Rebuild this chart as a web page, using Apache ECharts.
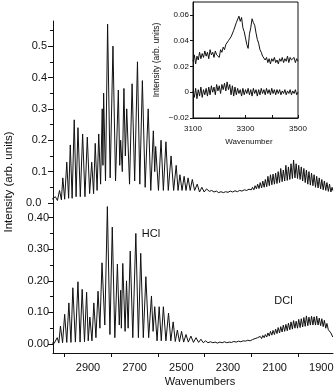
<!DOCTYPE html>
<html><head><meta charset="utf-8">
<script src="https://cdn.jsdelivr.net/npm/echarts@6/dist/echarts.min.js"></script>
<style>html,body{margin:0;padding:0;background:#fff}#c{width:335px;height:389px}</style>
</head><body><div id="c"></div>
<script>
// ---- top panel trace (wavenumber, intensity) ----
const topWn = [3054,3048,3040,3031,3022,3014,3008,3000,2991,2983,2976,2968,2959,2951,2943,2933,2923,2913,2903,2893,2884,2876,2869,2861,2854,2846,2839,2836,2833,2825,2816,2805,2793,2782,2770,2764,2760,2753,2746,2740,2734,2722,2711,2700,2688,2678,2667,2655,2642,2631,2620,2614,2610,2598,2587,2577,2566,2556,2544,2533,2522,2514,2506,2497,2488,2480,2471,2462,2453,2443,2432,2422,2412,2402,2392,2380,2370,2360,2350,2340,2330,2320,2310,2300,2290,2280,2270,2260,2250,2240,2230,2220,2210,2200,2195,2189,2184,2178,2173,2167,2162,2156,2151,2145,2140,2134,2129,2123,2118,2112,2107,2101,2096,2090,2085,2079,2074,2068,2063,2057,2052,2046,2041,2035,2030,2024,2019,2013,2008,2002,1997,1991,1986,1980,1975,1969,1964,1958,1953,1947,1942,1936,1931,1925,1920,1914,1909,1903,1898,1892,1887,1881,1876,1870,1865,1859,1854,1851];
const topInt = [0.012,0.008,0.02,0.008,0.04,0.01,0.08,0.012,0.13,0.015,0.185,0.015,0.265,0.02,0.24,0.02,0.22,0.02,0.21,0.03,0.13,0.03,0.19,0.04,0.22,0.06,0.30,0.12,0.35,0.07,0.57,0.08,0.50,0.07,0.36,0.12,0.20,0.10,0.365,0.15,0.30,0.06,0.38,0.07,0.45,0.06,0.39,0.05,0.30,0.04,0.23,0.10,0.18,0.04,0.20,0.04,0.195,0.04,0.15,0.04,0.12,0.04,0.09,0.04,0.085,0.04,0.08,0.04,0.075,0.04,0.06,0.035,0.05,0.035,0.045,0.037,0.040,0.035,0.038,0.033,0.036,0.033,0.036,0.034,0.038,0.035,0.039,0.036,0.040,0.038,0.042,0.040,0.044,0.042,0.050,0.042,0.055,0.045,0.060,0.046,0.065,0.048,0.070,0.050,0.075,0.052,0.085,0.055,0.090,0.058,0.092,0.060,0.095,0.062,0.100,0.065,0.110,0.068,0.105,0.070,0.120,0.072,0.115,0.075,0.125,0.078,0.137,0.080,0.125,0.078,0.120,0.075,0.115,0.070,0.110,0.065,0.105,0.060,0.100,0.057,0.095,0.055,0.090,0.050,0.085,0.048,0.080,0.045,0.075,0.042,0.070,0.040,0.065,0.037,0.060,0.035,0.050,0.040];

// ---- bottom panel trace ----
const botWn = [3054,3045,3032,3025,3018,3009,3000,2991,2982,2973,2965,2954,2943,2934,2925,2915,2906,2899,2892,2883,2875,2866,2857,2849,2840,2828,2817,2806,2796,2785,2774,2766,2760,2757,2751,2741,2735,2728,2719,2708,2695,2684,2674,2663,2652,2640,2628,2621,2614,2604,2595,2586,2577,2566,2555,2545,2535,2526,2517,2508,2499,2490,2480,2470,2459,2448,2437,2426,2416,2406,2396,2386,2375,2365,2355,2345,2335,2325,2315,2305,2295,2285,2275,2265,2255,2245,2235,2225,2215,2205,2195,2189,2184,2178,2173,2167,2162,2156,2151,2145,2140,2134,2129,2123,2118,2112,2107,2101,2096,2090,2085,2079,2074,2068,2063,2057,2052,2046,2041,2035,2030,2024,2019,2013,2008,2002,1997,1991,1986,1980,1975,1969,1964,1958,1953,1947,1942,1936,1931,1925,1920,1914,1909,1903,1898,1892,1887,1881,1876,1870,1865,1859,1854,1851];
const botInt = [0.003,0.002,0.02,0.003,0.057,0.004,0.094,0.005,0.13,0.005,0.178,0.006,0.197,0.006,0.173,0.007,0.164,0.01,0.085,0.01,0.13,0.02,0.167,0.05,0.257,0.06,0.435,0.03,0.37,0.02,0.253,0.06,0.17,0.05,0.255,0.04,0.20,0.05,0.294,0.02,0.35,0.02,0.287,0.02,0.213,0.02,0.152,0.04,0.118,0.01,0.118,0.01,0.118,0.01,0.098,0.01,0.07,0.008,0.044,0.007,0.04,0.006,0.03,0.006,0.025,0.005,0.02,0.005,0.015,0.004,0.01,0.004,0.007,0.004,0.006,0.003,0.006,0.004,0.007,0.004,0.006,0.005,0.008,0.006,0.009,0.007,0.010,0.009,0.012,0.010,0.014,0.011,0.017,0.013,0.020,0.015,0.024,0.017,0.027,0.020,0.030,0.022,0.035,0.025,0.040,0.028,0.043,0.030,0.047,0.033,0.052,0.035,0.055,0.038,0.060,0.040,0.062,0.042,0.066,0.045,0.070,0.047,0.074,0.050,0.072,0.050,0.078,0.052,0.080,0.054,0.084,0.056,0.089,0.058,0.085,0.060,0.088,0.060,0.086,0.060,0.088,0.060,0.082,0.058,0.080,0.055,0.075,0.050,0.065,0.045,0.050,0.035,0.030,0.022];

// ---- inset traces ----
const insetWn = [3100,3105,3110,3115,3120,3125,3130,3135,3140,3145,3150,3155,3160,3165,3170,3175,3180,3185,3190,3195,3200,3205,3210,3215,3220,3225,3230,3235,3240,3245,3250,3255,3260,3265,3270,3275,3280,3285,3290,3295,3300,3305,3310,3315,3320,3325,3330,3335,3340,3345,3350,3355,3360,3365,3370,3375,3380,3385,3390,3395,3400,3405,3410,3415,3420,3425,3430,3435,3440,3445,3450,3455,3460,3465,3470,3475,3480,3485,3490,3495,3500];
const insetUpper = [0.024,0.029,0.022,0.028,0.025,0.031,0.026,0.030,0.027,0.032,0.028,0.031,0.026,0.033,0.029,0.031,0.027,0.032,0.029,0.030,0.027,0.033,0.031,0.035,0.033,0.037,0.036,0.040,0.039,0.043,0.044,0.048,0.049,0.054,0.053,0.059,0.055,0.058,0.050,0.047,0.042,0.037,0.034,0.045,0.050,0.057,0.054,0.052,0.046,0.041,0.038,0.033,0.031,0.028,0.029,0.025,0.027,0.023,0.026,0.022,0.026,0.024,0.027,0.023,0.025,0.022,0.026,0.024,0.027,0.023,0.026,0.024,0.028,0.023,0.027,0.025,0.024,0.027,0.023,0.026,0.024];
const insetLower = [0.001,-0.004,0.003,-0.005,0.002,-0.003,0.004,-0.004,0.002,-0.002,0.003,-0.003,0.004,-0.002,0.005,0.000,0.004,-0.002,0.006,0.001,0.005,-0.001,0.006,0.002,0.007,0.001,0.008,0.002,0.006,-0.002,0.005,-0.003,0.004,-0.002,0.003,-0.001,0.002,-0.003,0.003,-0.002,0.002,-0.001,0.003,-0.002,0.002,-0.003,0.003,-0.001,0.002,-0.003,0.002,-0.002,0.003,-0.001,0.002,-0.002,0.003,-0.001,0.002,-0.002,0.003,-0.001,0.002,-0.002,0.002,-0.001,0.002,-0.002,0.001,-0.001,0.002,-0.002,0.001,-0.001,0.002,-0.002,0.001,-0.001,0.002,-0.002,0.000];

// ---- tick / label values ----
const mainXLabels = [1900,2100,2300,2500,2700,2900];
const mainXTicks = [2000,2200,2400,2600,2800,3000];
const topYTicks = [0,0.1,0.2,0.3,0.4,0.5];
const topYLabels = [0.1,0.2,0.3,0.4,0.5];
const topYMinor = [0.05,0.15,0.25,0.35,0.45,0.55];
const botYLabels = [0,0.1,0.2,0.3,0.4];
const botYMinor = [0.05,0.15,0.25,0.35];

function zip(a,b){return a.map((v,i)=>[v,b[i]]);}
const FONT = 'Liberation Sans, Arial, Helvetica, sans-serif';
const C = '#111';
const line = {color:C, width:1};

const chart = echarts.init(document.getElementById('c'), null, {renderer:'canvas'});
chart.setOption({
  animation:false,
  backgroundColor:'#fff',
  textStyle:{fontFamily:FONT},
  grid:[
    {left:53, top:21, width:280, height:184, outerBoundsMode:'none', containLabel:false},
    {left:53, top:205, width:280, height:148, outerBoundsMode:'none', containLabel:false},
    {left:193, top:2, width:105, height:116, outerBoundsMode:'none', containLabel:false, show:true, borderColor:C, borderWidth:1, backgroundColor:'#fff'}
  ],
  xAxis:[
    {gridIndex:0, type:'value', min:1850, max:3050, inverse:true, show:false},
    {gridIndex:1, type:'value', min:1850, max:3050, inverse:true,
      axisLine:{onZero:false, lineStyle:line},
      axisTick:{show:true, customValues:mainXTicks, length:4, lineStyle:line},
      axisLabel:{customValues:mainXLabels, color:C, fontSize:11, margin:9, fontFamily:FONT, formatter:v=>String(Math.round(v))},
      splitLine:{show:false}},
    {gridIndex:2, type:'value', min:3100, max:3500, interval:100,
      axisLine:{onZero:false, lineStyle:line},
      axisTick:{inside:true, length:3, lineStyle:line},
      axisLabel:{color:C, fontSize:8, margin:7, fontFamily:FONT,
        formatter:v=>((Math.round(v)-3100)%200===0?String(Math.round(v)):'')},
      splitLine:{show:false}}
  ],
  yAxis:[
    {gridIndex:0, type:'value', position:'left', min:-0.0064, max:0.58,
      axisLine:{show:true, onZero:false, lineStyle:line},
      axisTick:{show:true, customValues:topYTicks, length:5, lineStyle:line},
      axisLabel:{customValues:topYLabels, color:C, fontSize:11, margin:6, fontFamily:FONT, formatter:v=>v.toFixed(1), hideOverlap:false},
      splitLine:{show:false}},
    {gridIndex:0, type:'value', position:'left', offset:0, min:-0.0064, max:0.58,
      axisLine:{show:false, onZero:false},
      axisTick:{show:true, customValues:topYMinor, length:3, lineStyle:line},
      axisLabel:{show:false},
      splitLine:{show:false}},
    {gridIndex:1, type:'value', position:'left', min:-0.0285, max:0.44,
      axisLine:{show:true, onZero:false, lineStyle:line},
      axisTick:{show:true, customValues:botYLabels, length:5, lineStyle:line},
      axisLabel:{customValues:botYLabels, color:C, fontSize:11, margin:4, fontFamily:FONT, formatter:v=>v.toFixed(2), hideOverlap:false},
      splitLine:{show:false}},
    {gridIndex:1, type:'value', position:'left', offset:0, min:-0.0285, max:0.44,
      axisLine:{show:false, onZero:false},
      axisTick:{show:true, customValues:botYMinor, length:3, lineStyle:line},
      axisLabel:{show:false},
      splitLine:{show:false}},
    {gridIndex:2, type:'value', min:-0.02, max:0.07, interval:0.02,
      axisLine:{show:true, onZero:false, lineStyle:line},
      axisTick:{show:true, length:3, lineStyle:line},
      axisLabel:{color:C, fontSize:8, margin:4, fontFamily:FONT, showMaxLabel:false,
        formatter:v=>{const r=Math.round(v*100)/100; if(r===0) return '0'; return (r<0?'\u2212':'')+Math.abs(r).toFixed(2);}},
      splitLine:{show:false}}
  ],
  series:[
    {type:'line', xAxisIndex:0, yAxisIndex:0, data:zip(topWn,topInt), showSymbol:false, lineStyle:line, itemStyle:{color:C}, silent:true},
    {type:'line', xAxisIndex:1, yAxisIndex:2, data:zip(botWn,botInt), showSymbol:false, lineStyle:line, itemStyle:{color:C}, silent:true},
    {type:'line', xAxisIndex:2, yAxisIndex:4, data:zip(insetWn,insetUpper), showSymbol:false, lineStyle:line, itemStyle:{color:C}, silent:true},
    {type:'line', xAxisIndex:2, yAxisIndex:4, data:zip(insetWn,insetLower), showSymbol:false, lineStyle:line, itemStyle:{color:C}, silent:true}
  ],
  graphic:[
    {type:'text', z:100, left:26, top:197, style:{text:'0.0', fill:C, fontSize:11, fontFamily:FONT}},
    {type:'text', x:9, y:182, rotation:Math.PI/2, style:{text:'Intensity (arb. units)', fill:C, font:'11.5px '+FONT, textAlign:'center', textVerticalAlign:'middle'}},
    {type:'text', x:200, y:382, style:{text:'Wavenumbers', fill:C, font:'11px '+FONT, textAlign:'center', textVerticalAlign:'middle'}},
    {type:'text', x:157, y:60, rotation:Math.PI/2, style:{text:'Intensity (arb. units)', fill:C, font:'8.5px '+FONT, textAlign:'center', textVerticalAlign:'middle'}},
    {type:'text', x:249, y:142, style:{text:'Wavenumber', fill:C, font:'8px '+FONT, textAlign:'center', textVerticalAlign:'middle'}},
    {type:'text', x:151, y:234, style:{text:'HCl', fill:C, font:'11px '+FONT, textAlign:'center', textVerticalAlign:'middle'}},
    {type:'text', x:283.5, y:301, style:{text:'DCl', fill:C, font:'11px '+FONT, textAlign:'center', textVerticalAlign:'middle'}}
  ]
});
</script></body></html>
